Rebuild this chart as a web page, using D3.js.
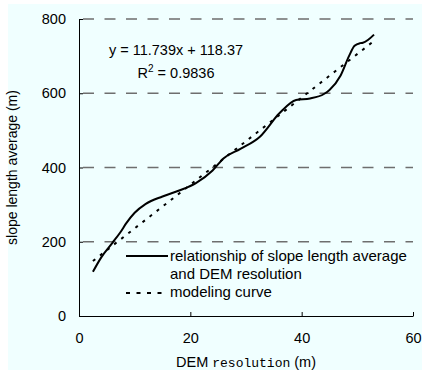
<!DOCTYPE html>
<html>
<head>
<meta charset="utf-8">
<script src="https://cdn.jsdelivr.net/npm/d3@7"></script>
<style>
  html, body { margin: 0; padding: 0; background: #fff; }
  svg { display: block; }
</style>
</head>
<body>
<div id="chart"></div>
<script>
// values
const resolution = [2.5, 4, 6, 7.5, 8.5, 10, 12, 15, 18, 21, 24, 26, 29, 32.5, 36, 39, 41.5, 44, 45, 47, 48.5, 49.5, 50.5, 51, 53];
const slopeLength = [119, 158, 197, 227, 250, 278, 302, 322, 338, 358, 392, 425, 450, 483, 546, 582, 586, 598, 609, 648, 700, 728, 735, 736, 758];

// trend line end points (as drawn)
const fitX = [2.5, 53];
const fitY = [148, 741];

const xTicks = [0, 20, 40, 60];
const yTicks = [0, 200, 400, 600, 800];
const gridValues = [200, 400, 600, 800];

const equationText = "y = 11.739x + 118.37";
const legendLabels = ["relationship of slope length average", "and DEM resolution", "modeling curve"];

const width = 422, height = 370;
const margin = { top: 19, right: 9, bottom: 54, left: 79 };
const innerW = width - margin.left - margin.right;
const innerH = height - margin.top - margin.bottom;

const svg = d3.select("#chart").append("svg")
    .attr("width", width)
    .attr("height", height)
    .style("font-family", "'Liberation Sans', Arial, sans-serif");

svg.append("rect")
    .attr("x", 8).attr("y", 4)
    .attr("width", width - 8).attr("height", height - 4)
    .attr("fill", "#F0FFFF");

const g = svg.append("g")
    .attr("transform", `translate(${margin.left},${margin.top})`);

const x = d3.scaleLinear().domain([0, 60]).range([0, innerW]);
const y = d3.scaleLinear().domain([0, 800]).range([innerH, 0]);

// dashed grid
g.selectAll(".grid")
    .data(gridValues)
    .join("line")
    .attr("x1", 4).attr("x2", innerW)
    .attr("y1", d => y(d)).attr("y2", d => y(d))
    .attr("stroke", "#6e6e6e")
    .attr("stroke-width", 1.5)
    .attr("stroke-dasharray", "11,10.5");

// axes
const xAxis = g.append("g")
    .attr("transform", `translate(0,${innerH})`)
    .call(d3.axisBottom(x).tickValues(xTicks).tickSizeInner(-4).tickSizeOuter(0).tickPadding(17));
const yAxis = g.append("g")
    .call(d3.axisLeft(y).tickValues(yTicks).tickSizeInner(-4).tickSizeOuter(0).tickPadding(13));

[xAxis, yAxis].forEach(a => {
    a.select(".domain").attr("stroke", "#000").attr("stroke-width", 1);
    a.selectAll(".tick line").attr("stroke", "#000");
    a.selectAll("text").attr("fill", "#000").style("font-size", "14.5px")
        .style("font-family", "'Liberation Sans', Arial, sans-serif");
});

// lines
const line = d3.line()
    .x((d, i) => x(resolution[i]))
    .y(d => y(d))
    .curve(d3.curveMonotoneX);

g.append("path")
    .attr("d", line(slopeLength))
    .attr("fill", "none")
    .attr("stroke", "#000")
    .attr("stroke-width", 2);

const fitLine = d3.line()
    .x((d, i) => x(fitX[i]))
    .y(d => y(d));

g.append("path")
    .attr("d", fitLine(fitY))
    .attr("fill", "none")
    .attr("stroke", "#000")
    .attr("stroke-width", 2)
    .attr("stroke-dasharray", "3,6");

// equation
svg.append("text")
    .attr("x", 176).attr("y", 55)
    .attr("text-anchor", "middle")
    .style("font-size", "14.5px")
    .text(equationText);

const r2 = svg.append("text")
    .attr("x", 176).attr("y", 78)
    .attr("text-anchor", "middle")
    .style("font-size", "14.5px");
r2.append("tspan").text("R");
r2.append("tspan").attr("dy", -6).style("font-size", "10px").text("2");
r2.append("tspan").attr("dy", 6).text(" = 0.9836");

// legend
const legend = svg.append("g");
legend.append("line")
    .attr("x1", 126).attr("x2", 168).attr("y1", 256).attr("y2", 256)
    .attr("stroke", "#000").attr("stroke-width", 2);
legend.append("line")
    .attr("x1", 126).attr("x2", 168).attr("y1", 293).attr("y2", 293)
    .attr("stroke", "#000").attr("stroke-width", 2)
    .attr("stroke-dasharray", "4,6.5");
legend.selectAll("text")
    .data(legendLabels)
    .join("text")
    .attr("x", 170)
    .attr("y", (d, i) => [261, 279, 297][i])
    .style("font-size", "15px")
    .text(d => d);

// axis titles
const xt = svg.append("text")
    .attr("x", 246).attr("y", 367)
    .attr("text-anchor", "middle")
    .style("font-size", "14.5px");
xt.append("tspan").text("DEM ");
xt.append("tspan").style("font-family", "'Liberation Mono', 'Courier New', monospace").style("font-size", "13px").text("resolution");
xt.append("tspan").text(" (m)");

svg.append("text")
    .attr("transform", `translate(17,${margin.top + innerH / 2}) rotate(-90)`)
    .attr("text-anchor", "middle")
    .style("font-size", "14px")
    .text("slope length average (m)");
</script>
</body>
</html>
